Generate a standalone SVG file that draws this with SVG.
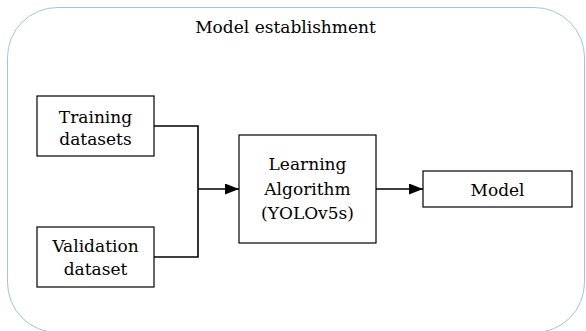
<svg xmlns="http://www.w3.org/2000/svg" width="586" height="331" viewBox="0 0 586 331">
<defs>
<style>
.box{fill:#fff;stroke:#000;stroke-width:1.2}
.t{font-family:'DejaVu Serif',serif;font-size:17px;fill:#000;text-anchor:middle}
.c{fill:none;stroke:#000;stroke-width:1.6}
</style>
<marker id="arr" markerWidth="14" markerHeight="11" refX="14" refY="5.5" orient="auto" markerUnits="userSpaceOnUse">
<path d="M0,0 L14,5.5 L0,11 Z" fill="#000"/>
</marker>
</defs>
<rect width="586" height="331" fill="#fff"/>
<g id="frame">
<rect x="7.5" y="7.5" width="577" height="325" rx="50" ry="50" fill="none" stroke="#9DC3E6" stroke-width="1"/>
<text class="t" x="285.5" y="33">Model establishment</text>
</g>
<g id="training">
<rect class="box" x="37" y="96" width="117" height="60"/>
<text class="t" x="95.5" y="123">Training</text>
<text class="t" x="95.5" y="145">datasets</text>
</g>
<g id="validation">
<rect class="box" x="37" y="227" width="117" height="60"/>
<text class="t" x="95.5" y="252">Validation</text>
<text class="t" x="95.5" y="275">dataset</text>
</g>
<g id="learning">
<rect class="box" x="239" y="135" width="137" height="108"/>
<text class="t" x="307.5" y="170">Learning</text>
<text class="t" x="307.5" y="195">Algorithm</text>
<text class="t" x="307.5" y="219">(YOLOv5s)</text>
</g>
<g id="model">
<rect class="box" x="423" y="171" width="149" height="36"/>
<text class="t" x="497.5" y="196">Model</text>
</g>
<g id="connectors">
<path class="c" d="M154,126 H198 V257 H154"/>
<path class="c" d="M198,189 H239" marker-end="url(#arr)"/>
<path class="c" d="M376,189 H423" marker-end="url(#arr)"/>
</g>
</svg>
